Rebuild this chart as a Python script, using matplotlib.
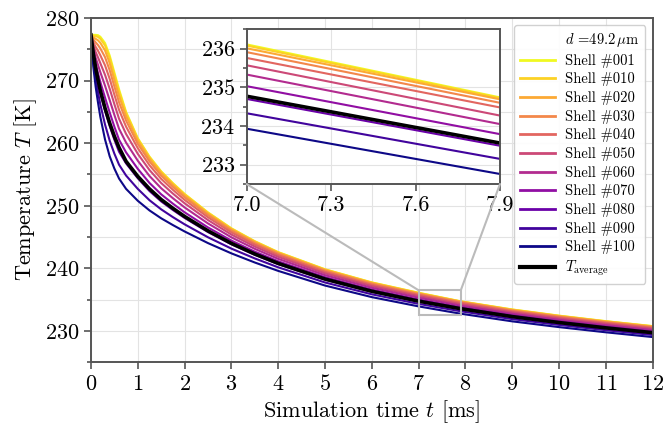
import matplotlib.pyplot as plt
from matplotlib.lines import Line2D
from matplotlib.patches import Rectangle, ConnectionPatch
from matplotlib.ticker import MultipleLocator

plt.rcParams['font.family'] = ['cmr10', 'DejaVu Serif']
plt.rcParams['mathtext.fontset'] = 'cm'
plt.rcParams['axes.formatter.use_mathtext'] = True
plt.rcParams['axes.unicode_minus'] = False

# simulation time [ms]
t = [0, 0.05, 0.1, 0.15, 0.2, 0.3, 0.4, 0.5, 0.6, 0.75, 1.0, 1.25, 1.5, 1.75,
     2.0, 2.5, 3.0, 3.5, 4.0, 5.0, 6.0, 7.0, 7.9, 9.0, 10.0, 11.0, 12.0]

# shell temperatures [K]
T001 = [277.3, 277.30, 277.30, 277.25, 277.00, 276.00, 274.00, 271.30, 268.60, 265.00, 260.80, 257.86, 255.50, 253.62,
        251.90, 248.94, 246.40, 244.34, 242.60, 239.86, 237.76, 236.11, 234.74, 233.44, 232.45, 231.57, 230.78]
T010 = [277.3, 277.17, 277.09, 276.98, 276.68, 275.62, 273.60, 270.92, 268.24, 264.80, 260.70, 257.77, 255.43, 253.55,
        251.84, 248.89, 246.36, 244.31, 242.57, 239.83, 237.74, 236.08, 234.72, 233.42, 232.43, 231.55, 230.76]
T020 = [277.3, 276.91, 276.67, 276.43, 276.03, 274.83, 272.78, 270.13, 267.52, 264.32, 260.40, 257.52, 255.20, 253.35,
        251.66, 248.74, 246.24, 244.20, 242.48, 239.76, 237.67, 236.01, 234.69, 233.36, 232.38, 231.50, 230.71]
T030 = [277.3, 276.56, 276.09, 275.68, 275.13, 273.75, 271.65, 269.06, 266.52, 263.60, 259.90, 257.09, 254.83, 253.02,
        251.36, 248.50, 246.04, 244.03, 242.33, 239.63, 237.55, 235.91, 234.60, 233.27, 232.29, 231.41, 230.62]
T040 = [277.3, 276.12, 275.38, 274.77, 274.04, 272.44, 270.28, 267.75, 265.31, 262.64, 259.20, 256.48, 254.30, 252.55,
        250.94, 248.16, 245.76, 243.80, 242.12, 239.44, 237.38, 235.76, 234.48, 233.14, 232.16, 231.29, 230.50]
T050 = [277.3, 275.62, 274.56, 273.70, 272.78, 270.92, 268.69, 266.23, 263.90, 261.47, 258.30, 255.71, 253.63, 251.95,
        250.40, 247.72, 245.40, 243.49, 241.85, 239.21, 237.17, 235.57, 234.27, 232.97, 231.99, 231.13, 230.34]
T060 = [277.3, 275.05, 273.63, 272.50, 271.34, 269.19, 266.88, 264.52, 262.30, 260.09, 257.20, 254.76, 252.80, 251.21,
        249.74, 247.18, 244.96, 243.12, 241.52, 238.92, 236.91, 235.33, 234.05, 232.76, 231.79, 230.93, 230.15]
T070 = [277.3, 274.42, 272.61, 271.18, 269.77, 267.30, 264.90, 262.63, 260.55, 258.53, 255.90, 253.65, 251.83, 250.34,
        248.96, 246.54, 244.44, 242.67, 241.13, 238.59, 236.61, 235.03, 233.79, 232.51, 231.55, 230.70, 229.92]
T080 = [277.3, 273.73, 271.49, 269.73, 268.04, 265.22, 262.73, 260.56, 258.63, 256.77, 254.40, 252.36, 250.70, 249.33,
        248.06, 245.80, 243.84, 242.16, 240.68, 238.20, 236.26, 234.70, 233.49, 232.22, 231.28, 230.43, 229.66]
T090 = [277.3, 272.99, 270.29, 268.17, 266.18, 262.99, 260.40, 258.33, 256.56, 254.83, 252.70, 250.89, 249.43, 248.19,
        247.04, 244.97, 243.16, 241.59, 240.17, 237.75, 235.86, 234.33, 233.15, 231.90, 230.97, 230.13, 229.36]
T100 = [277.3, 272.20, 269.00, 266.50, 264.20, 260.60, 257.90, 255.95, 254.35, 252.70, 250.80, 249.26, 248.00, 246.92,
        245.90, 244.04, 242.40, 240.94, 239.60, 237.26, 235.41, 233.93, 232.76, 231.54, 230.62, 229.79, 229.03]
T_avg = [277.3, 274.30, 272.00, 270.10, 268.40, 265.60, 263.20, 261.10, 259.30, 257.10, 254.70, 252.70, 251.00, 249.60,
         248.30, 246.00, 244.00, 242.30, 240.80, 238.30, 236.35, 234.77, 233.56, 232.30, 231.35, 230.50, 229.73]

shell_ids = [1, 10, 20, 30, 40, 50, 60, 70, 80, 90, 100]
shells = [T001, T010, T020, T030, T040, T050, T060, T070, T080, T090, T100]
diameter = '49.2'

cmap = plt.get_cmap('plasma')
colors = [cmap(1 - (k - 1) / 99) for k in shell_ids]

fig = plt.figure(figsize=(6.64, 4.28), dpi=100)
ax = fig.add_axes([0.137, 0.1535, 0.846, 0.8045])
axins = fig.add_axes([0.3715, 0.570, 0.3815, 0.3615])

spine_col = '#555555'
grid_col = '#e3e3e3'
box_col = '#bbbbbb'

for a in (ax, axins):
    for k, T, c in zip(shell_ids, shells, colors):
        a.plot(t, T, color=c, lw=1.5, label='Shell #%03d' % k)
    a.plot(t, T_avg, color='black', lw=2.6, label=r'$T_{\mathrm{average}}$')
    for s in a.spines.values():
        s.set_color(spine_col)
        s.set_linewidth(1.4)
    a.tick_params(which='both', direction='out', color=spine_col, width=1.2, labelsize=16)
    a.tick_params(which='major', length=5)
    a.tick_params(which='minor', length=3)
    a.set_axisbelow(True)

# main axes
ax.set_xlim(0, 12)
ax.set_ylim(225, 280)
ax.set_xticks(range(0, 13))
ax.set_yticks(range(230, 281, 10))
ax.yaxis.set_minor_locator(MultipleLocator(5))
ax.grid(which='both', color=grid_col, lw=0.8)
ax.set_xlabel(r'Simulation time $t$ [ms]', fontsize=16, labelpad=3)
ax.set_ylabel(r'Temperature $T$ [K]', fontsize=16, labelpad=4)

# inset
axins.set_xlim(7.0, 7.9)
axins.set_ylim(232.5, 236.5)
axins.set_xticks([7.0, 7.3, 7.6, 7.9])
axins.set_xticklabels(['7.0', '7.3', '7.6', '7.9'])
axins.set_yticks([233, 234, 235, 236])
axins.yaxis.set_minor_locator(MultipleLocator(0.5))
axins.grid(which='major', color=grid_col, lw=0.8)

# zoom box and connectors
ax.add_patch(Rectangle((7.0, 232.5), 0.9, 4.0, fill=False, ec=box_col, lw=1.5, zorder=5))
for xa, xb in ((0, 7.0), (1, 7.9)):
    con = ConnectionPatch(xyA=(xa, 0), coordsA=axins.transAxes, xyB=(xb, 236.5), coordsB=ax.transData,
                          color=box_col, lw=1.5)
    fig.add_artist(con)

# legend
handles, labels = ax.get_legend_handles_labels()
dummy = Line2D([], [], color='none')
leg = ax.legend([dummy] + handles, [r'$d$ =' + diameter + r'$\,\mu$m'] + labels,
                loc='upper right', fontsize=10.5, framealpha=0.9, edgecolor='#cccccc',
                handlelength=2.4, labelspacing=0.32, borderpad=0.4, handletextpad=0.7)
for h in leg.legend_handles[1:-1]:
    h.set_linewidth(2.0)
leg.legend_handles[-1].set_linewidth(3.0)

fig.savefig('out.png', dpi=100)
